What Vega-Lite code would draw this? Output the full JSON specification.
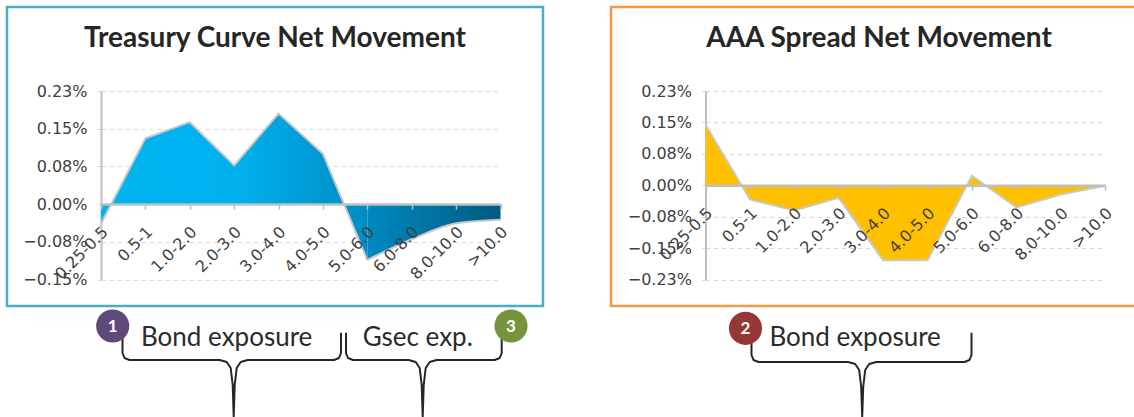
{
  "$schema": "https://vega.github.io/schema/vega-lite/v6.json",
  "padding": {"left": 5, "top": 5, "right": 0, "bottom": 0},
  "datasets": {
    "treasury": [
      {"idx": 0, "tenor": "0.25-0.5", "move": -0.039},
      {"idx": 1, "tenor": "0.5-1", "move": 0.131},
      {"idx": 2, "tenor": "1.0-2.0", "move": 0.163},
      {"idx": 3, "tenor": "2.0-3.0", "move": 0.077},
      {"idx": 4, "tenor": "3.0-4.0", "move": 0.18},
      {"idx": 5, "tenor": "4.0-5.0", "move": 0.1},
      {"idx": 6, "tenor": "5.0-6.0", "move": -0.111},
      {"idx": 7, "tenor": "6.0-8.0", "move": -0.07},
      {"idx": 8, "tenor": "8.0-10.0", "move": -0.038},
      {"idx": 9, "tenor": ">10.0", "move": -0.031}
    ],
    "aaa": [
      {"idx": 0, "tenor": "0.25-0.5", "move": 0.145},
      {"idx": 1, "tenor": "0.5-1", "move": -0.034},
      {"idx": 2, "tenor": "1.0-2.0", "move": -0.06},
      {"idx": 3, "tenor": "2.0-3.0", "move": -0.03},
      {"idx": 4, "tenor": "3.0-4.0", "move": -0.179},
      {"idx": 5, "tenor": "4.0-5.0", "move": -0.179},
      {"idx": 6, "tenor": "5.0-6.0", "move": 0.023},
      {"idx": 7, "tenor": "6.0-8.0", "move": -0.053},
      {"idx": 8, "tenor": "8.0-10.0", "move": -0.022},
      {"idx": 9, "tenor": ">10.0", "move": -0.001}
    ],
    "braces": [
      {"panel": "L", "brace": "A", "i": 1, "x": 115.5, "y": 330},
      {"panel": "L", "brace": "A", "i": 2, "x": 115.5, "y": 346},
      {"panel": "L", "brace": "A", "i": 3, "x": 117.5, "y": 351},
      {"panel": "L", "brace": "A", "i": 4, "x": 122.5, "y": 353},
      {"panel": "L", "brace": "A", "i": 5, "x": 212.7, "y": 353},
      {"panel": "L", "brace": "A", "i": 6, "x": 219.7, "y": 355},
      {"panel": "L", "brace": "A", "i": 7, "x": 223.7, "y": 361},
      {"panel": "L", "brace": "A", "i": 8, "x": 225.7, "y": 378},
      {"panel": "L", "brace": "A", "i": 9, "x": 226.7, "y": 410},
      {"panel": "L", "brace": "A", "i": 10, "x": 227.7, "y": 378},
      {"panel": "L", "brace": "A", "i": 11, "x": 229.7, "y": 361},
      {"panel": "L", "brace": "A", "i": 12, "x": 233.7, "y": 355},
      {"panel": "L", "brace": "A", "i": 13, "x": 240.7, "y": 353},
      {"panel": "L", "brace": "A", "i": 14, "x": 327, "y": 353},
      {"panel": "L", "brace": "A", "i": 15, "x": 332, "y": 351},
      {"panel": "L", "brace": "A", "i": 16, "x": 334, "y": 346},
      {"panel": "L", "brace": "A", "i": 17, "x": 334, "y": 325.7},
      {"panel": "L", "brace": "B", "i": 1, "x": 339, "y": 325.7},
      {"panel": "L", "brace": "B", "i": 2, "x": 339, "y": 346},
      {"panel": "L", "brace": "B", "i": 3, "x": 341, "y": 351},
      {"panel": "L", "brace": "B", "i": 4, "x": 346, "y": 353},
      {"panel": "L", "brace": "B", "i": 5, "x": 401.7, "y": 353},
      {"panel": "L", "brace": "B", "i": 6, "x": 408.7, "y": 355},
      {"panel": "L", "brace": "B", "i": 7, "x": 412.7, "y": 361},
      {"panel": "L", "brace": "B", "i": 8, "x": 414.7, "y": 378},
      {"panel": "L", "brace": "B", "i": 9, "x": 415.7, "y": 410},
      {"panel": "L", "brace": "B", "i": 10, "x": 416.7, "y": 378},
      {"panel": "L", "brace": "B", "i": 11, "x": 418.7, "y": 361},
      {"panel": "L", "brace": "B", "i": 12, "x": 422.7, "y": 355},
      {"panel": "L", "brace": "B", "i": 13, "x": 429.7, "y": 353},
      {"panel": "L", "brace": "B", "i": 14, "x": 487.7, "y": 353},
      {"panel": "L", "brace": "B", "i": 15, "x": 492.7, "y": 351},
      {"panel": "L", "brace": "B", "i": 16, "x": 494.7, "y": 346},
      {"panel": "L", "brace": "B", "i": 17, "x": 494.7, "y": 330.7},
      {"panel": "R", "brace": "C", "i": 1, "x": 140.5, "y": 335.7},
      {"panel": "R", "brace": "C", "i": 2, "x": 140.5, "y": 348},
      {"panel": "R", "brace": "C", "i": 3, "x": 142.5, "y": 353},
      {"panel": "R", "brace": "C", "i": 4, "x": 147.5, "y": 355},
      {"panel": "R", "brace": "C", "i": 5, "x": 237.2, "y": 355},
      {"panel": "R", "brace": "C", "i": 6, "x": 244.2, "y": 357},
      {"panel": "R", "brace": "C", "i": 7, "x": 248.2, "y": 363},
      {"panel": "R", "brace": "C", "i": 8, "x": 250.2, "y": 380},
      {"panel": "R", "brace": "C", "i": 9, "x": 251.2, "y": 410},
      {"panel": "R", "brace": "C", "i": 10, "x": 252.2, "y": 380},
      {"panel": "R", "brace": "C", "i": 11, "x": 254.2, "y": 363},
      {"panel": "R", "brace": "C", "i": 12, "x": 258.2, "y": 357},
      {"panel": "R", "brace": "C", "i": 13, "x": 265.2, "y": 355},
      {"panel": "R", "brace": "C", "i": 14, "x": 353.5, "y": 355},
      {"panel": "R", "brace": "C", "i": 15, "x": 358.5, "y": 353},
      {"panel": "R", "brace": "C", "i": 16, "x": 360.5, "y": 348},
      {"panel": "R", "brace": "C", "i": 17, "x": 360.5, "y": 325.7}
    ],
    "badges": [
      {"panel": "L", "n": "1", "x": 105.7, "y": 319},
      {"panel": "L", "n": "3", "x": 504, "y": 319},
      {"panel": "R", "n": "2", "x": 134.5, "y": 321.3}
    ],
    "labels": [
      {"panel": "L", "label": "Bond exposure", "x": 134, "y": 339},
      {"panel": "L", "label": "Gsec exp.", "x": 355.7, "y": 339},
      {"panel": "R", "label": "Bond exposure", "x": 158.5, "y": 339}
    ]
  },
  "hconcat": [
    {
      "width": 536,
      "height": 299,
      "view": {"stroke": "#4BACC6", "strokeWidth": 2.5},
      "title": {"text": "Treasury Curve Net Movement", "font": "Lato", "fontSize": 28, "fontWeight": "bold", "color": "#262626", "anchor": "middle", "frame": "group", "offset": -46},
      "resolve": {"scale": {"x": "independent", "y": "independent"}},
      "layer": [
        {
          "data": {"name": "treasury"},
          "encoding": {
            "x": {
              "field": "tenor",
              "type": "ordinal",
              "scale": {"type": "point", "domain": ["0.25-0.5", "0.5-1", "1.0-2.0", "2.0-3.0", "3.0-4.0", "4.0-5.0", "5.0-6.0", "6.0-8.0", "8.0-10.0", ">10.0"], "range": [94, 493.5], "padding": 0},
              "axis": {"orient": "bottom", "offset": -101.9, "title": null, "zindex": 1, "labelAngle": -45, "labelAlign": "right", "labelBaseline": "middle", "labelPadding": 20, "labelOffset": 4, "labelFont": "DejaVu Sans", "labelFontSize": 16, "labelColor": "#404040", "labelOverlap": false, "labelBound": false, "domainColor": "#BFBFBF", "domainWidth": 2.5, "tickColor": "#BFBFBF", "tickSize": 5, "tickWidth": 1.5, "grid": false}
            },
            "y": {
              "field": "move",
              "type": "quantitative",
              "scale": {"domain": [-0.15, 0.225], "range": [272.5, 84], "nice": false, "zero": false},
              "axis": {"orient": "left", "offset": -94, "title": null, "values": [-0.15, -0.075, 0, 0.075, 0.15, 0.225], "labelExpr": "format(datum.value * 1.0001, '.2f') + '%'", "labelFont": "DejaVu Sans", "labelFontSize": 16, "labelColor": "#404040", "labelPadding": 10, "domainColor": "#BFBFBF", "domainWidth": 2, "tickColor": "#D9D9D9", "tickSize": 4, "grid": true, "gridColor": "#D9D9D9", "gridDash": [4, 4], "gridWidth": 1}
            }
          },
          "layer": [
            {
              "transform": [{"filter": "datum.idx <= 6"}],
              "mark": {
                "type": "area",
                "interpolate": "linear",
                "opacity": 1,
                "fill": {"gradient": "linear", "x1": 0, "y1": 0, "x2": 1, "y2": 0, "stops": [{"offset": 0, "color": "#00B4F0"}, {"offset": 0.5, "color": "#00B1EE"}, {"offset": 1, "color": "#008CC4"}]},
                "line": {"color": "#C8C8C8", "strokeWidth": 2}
              }
            },
            {
              "transform": [{"filter": "datum.idx >= 6"}],
              "mark": {
                "type": "area",
                "interpolate": "monotone",
                "opacity": 1,
                "fill": {"gradient": "linear", "x1": 0, "y1": 0, "x2": 1, "y2": 0, "stops": [{"offset": 0, "color": "#0089C0"}, {"offset": 1, "color": "#005B80"}]},
                "line": {"color": "#C8C8C8", "strokeWidth": 2}
              }
            }
          ]
        },
        {
          "encoding": {
            "x": {"field": "x", "type": "quantitative", "scale": {"domain": [0, 536], "nice": false, "zero": false}, "axis": null},
            "y": {"field": "y", "type": "quantitative", "scale": {"domain": [0, 299], "reverse": true, "nice": false, "zero": false}, "axis": null}
          },
          "layer": [
            {
              "data": {"name": "braces"},
              "transform": [{"filter": "datum.panel == 'L'"}],
              "mark": {"type": "line", "color": "#262626", "strokeWidth": 2, "strokeJoin": "round"},
              "encoding": {"detail": {"field": "brace"}, "order": {"field": "i", "type": "quantitative"}}
            },
            {
              "data": {"name": "badges"},
              "transform": [{"filter": "datum.panel == 'L'"}],
              "mark": {"type": "circle", "size": 1100, "opacity": 1},
              "encoding": {"color": {"field": "n", "type": "nominal", "scale": {"domain": ["1", "2", "3"], "range": ["#5F497A", "#953735", "#77933C"]}, "legend": null}}
            },
            {
              "data": {"name": "badges"},
              "transform": [{"filter": "datum.panel == 'L'"}],
              "mark": {"type": "text", "font": "Lato", "fontWeight": "bold", "fontSize": 17, "color": "white", "baseline": "middle", "dy": 1},
              "encoding": {"text": {"field": "n"}}
            },
            {
              "data": {"name": "labels"},
              "transform": [{"filter": "datum.panel == 'L'"}],
              "mark": {"type": "text", "align": "left", "baseline": "alphabetic", "font": "Lato", "fontSize": 26, "color": "#2B2B2B"},
              "encoding": {"text": {"field": "label"}}
            }
          ]
        }
      ]
    },
    {
      "width": 536,
      "height": 299,
      "view": {"stroke": "#F79646", "strokeWidth": 2.5},
      "title": {"text": "AAA Spread Net Movement", "font": "Lato", "fontSize": 28, "fontWeight": "bold", "color": "#262626", "anchor": "middle", "frame": "group", "offset": -46},
      "resolve": {"scale": {"x": "independent", "y": "independent"}},
      "layer": [
        {
          "data": {"name": "aaa"},
          "mark": {"type": "area", "interpolate": "linear", "color": "#FFC000", "opacity": 1, "line": {"color": "#C8C8C8", "strokeWidth": 2}},
          "encoding": {
            "x": {
              "field": "tenor",
              "type": "ordinal",
              "scale": {"type": "point", "domain": ["0.25-0.5", "0.5-1", "1.0-2.0", "2.0-3.0", "3.0-4.0", "4.0-5.0", "5.0-6.0", "6.0-8.0", "8.0-10.0", ">10.0"], "range": [94.5, 494.2], "padding": 0},
              "axis": {"orient": "bottom", "offset": -120.75, "title": null, "zindex": 1, "labelAngle": -45, "labelAlign": "right", "labelBaseline": "middle", "labelPadding": 20, "labelOffset": 4, "labelFont": "DejaVu Sans", "labelFontSize": 16, "labelColor": "#404040", "labelOverlap": false, "labelBound": false, "domainColor": "#BFBFBF", "domainWidth": 2.5, "tickColor": "#BFBFBF", "tickSize": 5, "tickWidth": 1.5, "grid": false}
            },
            "y": {
              "field": "move",
              "type": "quantitative",
              "scale": {"domain": [-0.225, 0.225], "range": [272.5, 84], "nice": false, "zero": false},
              "axis": {"orient": "left", "offset": -94.5, "title": null, "values": [-0.225, -0.15, -0.075, 0, 0.075, 0.15, 0.225], "labelExpr": "format(datum.value * 1.0001, '.2f') + '%'", "labelFont": "DejaVu Sans", "labelFontSize": 16, "labelColor": "#404040", "labelPadding": 10, "domainColor": "#BFBFBF", "domainWidth": 2, "tickColor": "#D9D9D9", "tickSize": 4, "grid": true, "gridColor": "#D9D9D9", "gridDash": [4, 4], "gridWidth": 1}
            }
          }
        },
        {
          "encoding": {
            "x": {"field": "x", "type": "quantitative", "scale": {"domain": [0, 536], "nice": false, "zero": false}, "axis": null},
            "y": {"field": "y", "type": "quantitative", "scale": {"domain": [0, 299], "reverse": true, "nice": false, "zero": false}, "axis": null}
          },
          "layer": [
            {
              "data": {"name": "braces"},
              "transform": [{"filter": "datum.panel == 'R'"}],
              "mark": {"type": "line", "color": "#262626", "strokeWidth": 2, "strokeJoin": "round"},
              "encoding": {"detail": {"field": "brace"}, "order": {"field": "i", "type": "quantitative"}}
            },
            {
              "data": {"name": "badges"},
              "transform": [{"filter": "datum.panel == 'R'"}],
              "mark": {"type": "circle", "size": 1100, "opacity": 1},
              "encoding": {"color": {"field": "n", "type": "nominal", "scale": {"domain": ["1", "2", "3"], "range": ["#5F497A", "#953735", "#77933C"]}, "legend": null}}
            },
            {
              "data": {"name": "badges"},
              "transform": [{"filter": "datum.panel == 'R'"}],
              "mark": {"type": "text", "font": "Lato", "fontWeight": "bold", "fontSize": 17, "color": "white", "baseline": "middle", "dy": 1},
              "encoding": {"text": {"field": "n"}}
            },
            {
              "data": {"name": "labels"},
              "transform": [{"filter": "datum.panel == 'R'"}],
              "mark": {"type": "text", "align": "left", "baseline": "alphabetic", "font": "Lato", "fontSize": 26, "color": "#2B2B2B"},
              "encoding": {"text": {"field": "label"}}
            }
          ]
        }
      ]
    }
  ],
  "spacing": 64,
  "config": {"view": {"stroke": null}}
}
